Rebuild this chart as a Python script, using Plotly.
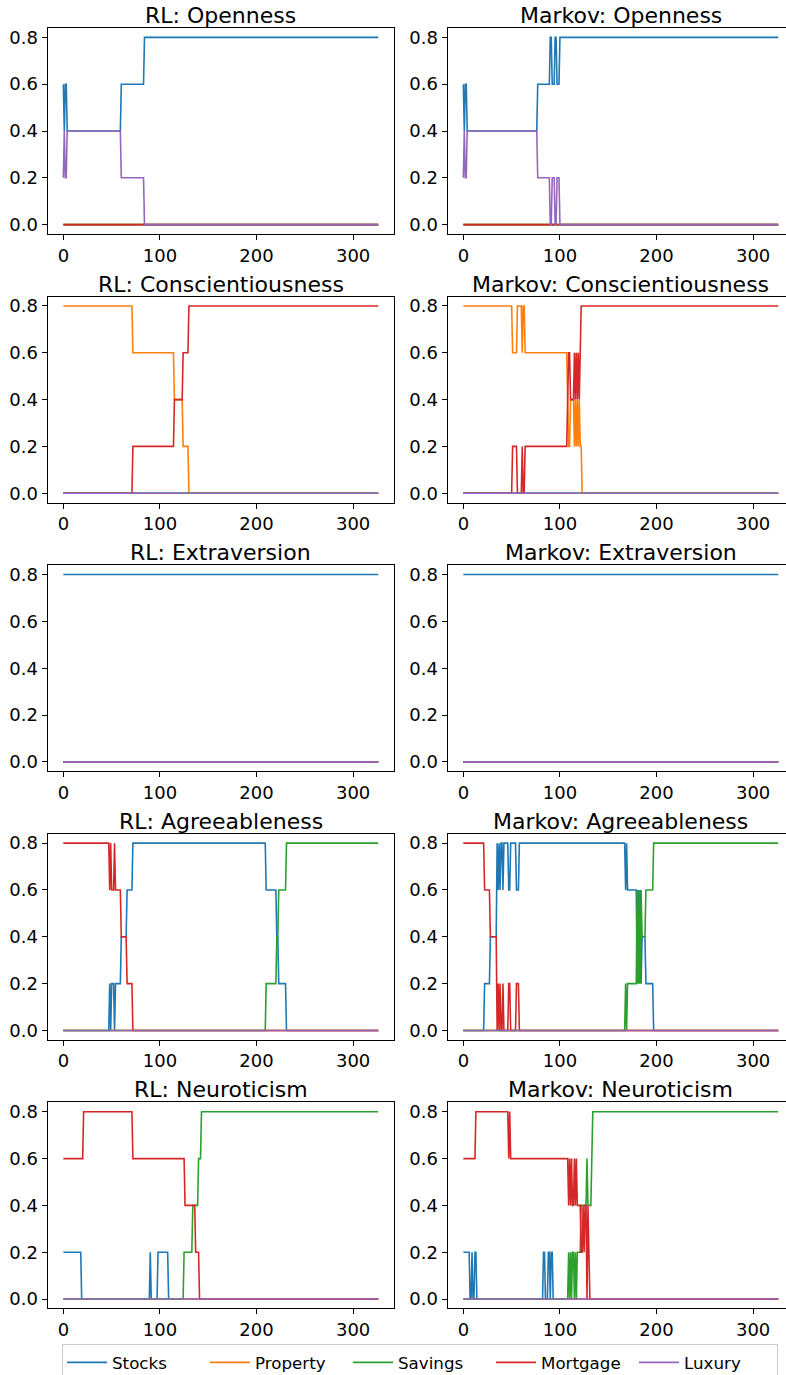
import plotly.graph_objects as go

# ---------------- data ----------------
N_POINTS = 327                      # time steps 0..326
T = list(range(N_POINTS))

SERIES = ["Stocks", "Property", "Savings", "Mortgage", "Luxury"]
COLORS = ["#1f77b4", "#ff7f0e", "#2ca02c", "#d62728", "#9467bd"]
TRAITS = ["Openness", "Conscientiousness", "Extraversion", "Agreeableness", "Neuroticism"]
MODELS = ["RL", "Markov"]
X_TICKS = [0, 100, 200, 300]
Y_TICKS = [0.0, 0.2, 0.4, 0.6, 0.8]
Y_TICK_TEXT = ["0.0", "0.2", "0.4", "0.6", "0.8"]

# allocation series as change points: (time step, value held from that step on)
ZERO = [(0, 0.0)]

RL_OPEN_STOCKS = [(0, .6), (1, .4), (2, .6), (4, .4), (60, .6), (84, .8)]
RL_OPEN_LUXURY = [(0, .2), (1, .4), (2, .2), (4, .4), (60, .2), (84, 0)]
MK_OPEN_STOCKS = [(0, .6), (1, .4), (2, .6), (4, .4), (77, .6), (90, .8), (92, .6), (95, .8), (97, .6), (100, .8)]
MK_OPEN_LUXURY = [(0, .2), (1, .4), (2, .2), (4, .4), (77, .2), (90, 0), (92, .2), (95, 0), (97, .2), (100, 0)]

RL_CONS_PROPERTY = [(0, .8), (72, .6), (115, .4), (124, .2), (130, 0)]
RL_CONS_MORTGAGE = [(0, 0), (72, .2), (115, .4), (124, .6), (130, .8)]
MK_CONS_PROPERTY = [(0, .8), (51, .6), (56, .8), (61, .6), (62, .8), (64, .6), (108, .4), (109, .2), (111, .4),
                    (115, .2), (116, .4), (117, .2), (118, .4), (119, .2), (120, .4), (121, .2), (123, 0)]
MK_CONS_MORTGAGE = [(0, 0), (51, .2), (56, 0), (61, .2), (62, 0), (64, .2), (108, .4), (109, .6), (111, .4),
                    (115, .6), (116, .4), (117, .6), (118, .4), (119, .6), (120, .4), (121, .6), (122, .8)]

RL_EXTR_STOCKS = [(0, .8)]
MK_EXTR_STOCKS = [(0, .8)]

RL_AGRE_STOCKS = [(0, 0), (48, .2), (49, 0), (50, .2), (53, 0), (54, .2), (60, .4), (66, .6), (72, .8),
                  (210, .6), (221, .4), (223, .2), (231, 0)]
RL_AGRE_SAVINGS = [(0, 0), (210, .2), (221, .4), (223, .6), (231, .8)]
RL_AGRE_MORTGAGE = [(0, .8), (48, .6), (49, .8), (50, .6), (53, .8), (54, .6), (60, .4), (66, .2), (72, 0)]

MK_AGRE_STOCKS = [(0, 0), (22, .2), (28, .4), (35, .8), (36, .6), (37, .8), (38, .6), (39, .8), (41, .6),
                  (42, .8), (47, .6), (49, .8), (55, .6), (58, .8), (168, .6), (169, .8), (170, .6),
                  (180, .2), (181, .6), (182, .2), (183, .6), (184, .2), (185, .4), (189, .2), (197, 0)]
MK_AGRE_SAVINGS = [(0, 0), (168, .2), (169, 0), (170, .2), (180, .6), (181, .2), (182, .6), (183, .2),
                   (184, .6), (185, .4), (189, .6), (197, .8)]
MK_AGRE_MORTGAGE = [(0, .8), (22, .6), (28, .4), (35, 0), (36, .2), (37, 0), (38, .2), (39, 0), (41, .2),
                    (42, 0), (47, .2), (49, 0), (55, .2), (58, 0)]

RL_NEUR_STOCKS = [(0, .2), (19, 0), (90, .2), (91, 0), (98, .2), (109, 0)]
RL_NEUR_SAVINGS = [(0, 0), (125, .2), (134, .4), (140, .6), (143, .8)]
RL_NEUR_MORTGAGE = [(0, .6), (21, .8), (72, .6), (126, .4), (137, .2), (141, 0)]

MK_NEUR_STOCKS = [(0, .2), (7, 0), (9, .2), (10, 0), (12, .2), (14, 0), (83, .2), (85, 0), (88, .2),
                  (90, 0), (91, .2), (93, 0)]
MK_NEUR_SAVINGS = [(0, 0), (109, .2), (110, 0), (111, .2), (112, 0), (113, .2), (115, 0), (116, .2),
                   (117, 0), (118, .2), (122, .4), (128, .6), (129, .4), (133, .6), (134, .8)]
MK_NEUR_MORTGAGE = [(0, .6), (13, .8), (47, .6), (48, .8), (49, .6), (109, .4), (110, .6), (111, .4),
                    (112, .6), (113, .4), (115, .6), (116, .4), (117, .6), (118, .4), (122, .2), (124, .4),
                    (125, .2), (126, .4), (128, 0), (129, .4), (130, .2), (131, 0)]

PANELS = {
    ("RL", "Openness"): {"Stocks": RL_OPEN_STOCKS, "Luxury": RL_OPEN_LUXURY},
    ("Markov", "Openness"): {"Stocks": MK_OPEN_STOCKS, "Luxury": MK_OPEN_LUXURY},
    ("RL", "Conscientiousness"): {"Property": RL_CONS_PROPERTY, "Mortgage": RL_CONS_MORTGAGE},
    ("Markov", "Conscientiousness"): {"Property": MK_CONS_PROPERTY, "Mortgage": MK_CONS_MORTGAGE},
    ("RL", "Extraversion"): {"Stocks": RL_EXTR_STOCKS},
    ("Markov", "Extraversion"): {"Stocks": MK_EXTR_STOCKS},
    ("RL", "Agreeableness"): {"Stocks": RL_AGRE_STOCKS, "Savings": RL_AGRE_SAVINGS, "Mortgage": RL_AGRE_MORTGAGE},
    ("Markov", "Agreeableness"): {"Stocks": MK_AGRE_STOCKS, "Savings": MK_AGRE_SAVINGS, "Mortgage": MK_AGRE_MORTGAGE},
    ("RL", "Neuroticism"): {"Stocks": RL_NEUR_STOCKS, "Savings": RL_NEUR_SAVINGS, "Mortgage": RL_NEUR_MORTGAGE},
    ("Markov", "Neuroticism"): {"Stocks": MK_NEUR_STOCKS, "Savings": MK_NEUR_SAVINGS, "Mortgage": MK_NEUR_MORTGAGE},
}


def expand(changes, n=N_POINTS):
    vals = []
    for i, (t, v) in enumerate(changes):
        end = changes[i + 1][0] if i + 1 < len(changes) else n
        vals += [v] * (end - t)
    return vals


# ---------------- layout ----------------
W, H = 786, 1375
FONT = "DejaVu Sans"
COL_PX = [(47.6, 394.0), (447.6, 794.0)]   # right column runs past the picture edge
X_RANGE = [-16.3, 342.3]
SCALE = (COL_PX[0][1] - COL_PX[0][0]) / (X_RANGE[1] - X_RANGE[0])
ROW_TOP = 28.0
ROW_STEP = 268.6
ROW_H = 206.0

fig = go.Figure()
layout = dict(width=W, height=H, margin=dict(l=0, r=0, t=0, b=0, autoexpand=False),
              paper_bgcolor="white", plot_bgcolor="white",
              font=dict(family=FONT, size=16.7, color="black"),
              hovermode=False)
annotations = []

for r, trait in enumerate(TRAITS):
    for c, model in enumerate(MODELS):
        k = r * 2 + c + 1
        xs = "" if k == 1 else str(k)
        x0, x1 = COL_PX[c]
        if x1 > W:
            dom = [x0 / W, 1.0]
            xr = [X_RANGE[0], X_RANGE[0] + (W - x0) / SCALE]
        else:
            dom = [x0 / W, x1 / W]
            xr = X_RANGE
        top = ROW_TOP + ROW_STEP * r
        bot = top + ROW_H
        ax_common = dict(showline=True, linecolor="black", linewidth=1, mirror=True,
                         ticks="outside", ticklen=5, tickwidth=1, tickcolor="black",
                         showgrid=False, zeroline=False,
                         tickfont=dict(family=FONT, size=18, color="black"))
        layout["xaxis" + xs] = dict(domain=dom, range=xr, anchor="y" + xs,
                                    tickvals=X_TICKS, **ax_common)
        layout["yaxis" + xs] = dict(domain=[1 - bot / H, 1 - top / H], range=[-0.04, 0.84],
                                    anchor="x" + xs, tickvals=Y_TICKS, ticktext=Y_TICK_TEXT,
                                    **ax_common)
        annotations.append(dict(text=f"{model}: {trait}", x=(x0 + x1) / 2 / W, y=1 - top / H,
                                xref="paper", yref="paper", xanchor="center", yanchor="bottom",
                                showarrow=False, yshift=-2,
                                font=dict(family=FONT, size=22, color="black")))
        panel = PANELS[(model, trait)]
        for name, color in zip(SERIES, COLORS):
            fig.add_trace(go.Scatter(
                x=T, y=expand(panel.get(name, ZERO)), mode="lines", name=name,
                line=dict(color=color, width=1.6), legendgroup=name,
                showlegend=(k == 1), xaxis="x" + xs, yaxis="y" + xs))

layout["annotations"] = annotations
layout["legend"] = dict(orientation="h", x=62 / W, y=1 - 1344 / H,
                        xanchor="left", yanchor="top",
                        bordercolor="#cccccc", borderwidth=1, bgcolor="white",
                        itemwidth=40, entrywidth=88, entrywidthmode="pixels",
                        font=dict(family=FONT, size=16.7, color="black"))
fig.update_layout(**layout)
fig.write_html("out.html", config={"displayModeBar": False},
               post_script="document.body.style.margin='0px';")
